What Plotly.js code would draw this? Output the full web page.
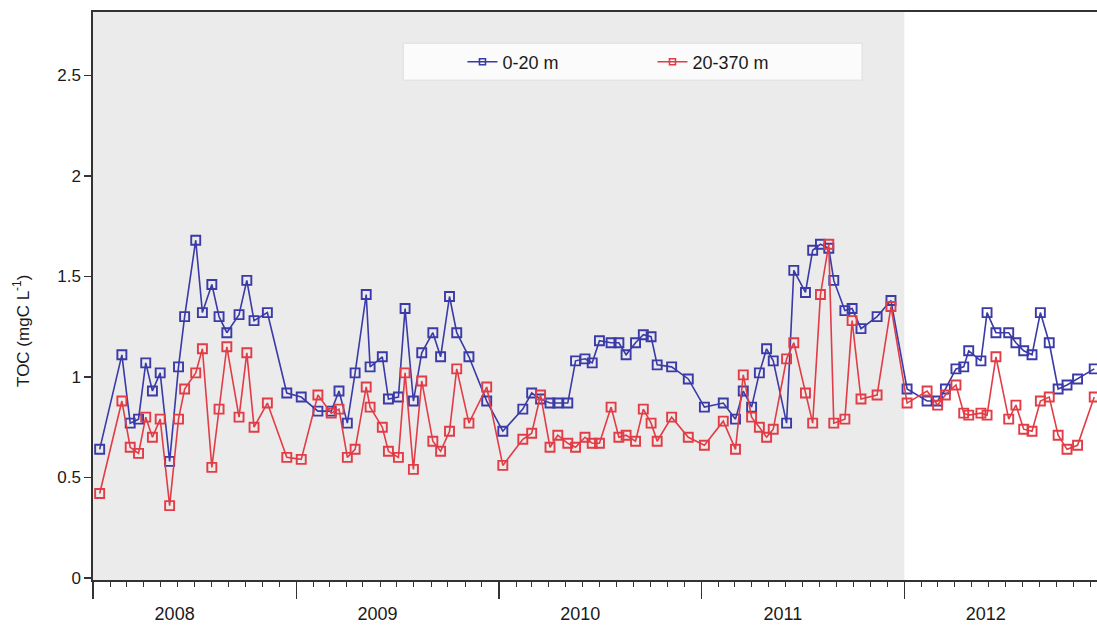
<!DOCTYPE html>
<html>
<head>
<meta charset="utf-8">
<script src="https://cdn.plot.ly/plotly-3.0.1.min.js"></script>
<style>
  html, body { margin: 0; padding: 0; background: #ffffff; }
  #chart { width: 1097px; height: 626px; }
</style>
</head>
<body>
<div id="chart"></div>
<script>
// Sampling dates (shared by both depth layers)
const sampleDates = [
  '2008-01-13','2008-02-22','2008-03-08','2008-03-23','2008-04-05','2008-04-17','2008-05-01','2008-05-18',
  '2008-06-03','2008-06-14','2008-07-04','2008-07-16','2008-08-02','2008-08-15','2008-08-29','2008-09-20',
  '2008-10-04','2008-10-17','2008-11-10','2008-12-15',
  '2009-01-10','2009-02-09','2009-03-05','2009-03-19','2009-04-03','2009-04-17','2009-05-07','2009-05-14',
  '2009-06-05','2009-06-16','2009-07-04','2009-07-16','2009-07-31','2009-08-15','2009-09-04','2009-09-18',
  '2009-10-04','2009-10-17','2009-11-08','2009-12-10',
  '2010-01-08','2010-02-13','2010-03-01','2010-03-17','2010-04-03','2010-04-17','2010-05-05','2010-05-19',
  '2010-06-05','2010-06-18','2010-07-01','2010-07-22','2010-08-05','2010-08-18','2010-09-04','2010-09-18',
  '2010-10-02','2010-10-13','2010-11-08','2010-12-08',
  '2011-01-06','2011-02-09','2011-03-03','2011-03-17','2011-04-01','2011-04-15','2011-04-28','2011-05-10',
  '2011-06-03','2011-06-16','2011-07-07','2011-07-20','2011-08-03','2011-08-18','2011-08-27','2011-09-16',
  '2011-09-29','2011-10-15','2011-11-13','2011-12-08',
  '2012-01-06','2012-02-11','2012-03-01','2012-03-15','2012-04-03','2012-04-17','2012-04-26','2012-05-18',
  '2012-05-29','2012-06-14','2012-07-07','2012-07-20','2012-08-03','2012-08-18','2012-09-02','2012-09-18',
  '2012-10-04','2012-10-20','2012-11-08','2012-12-08'
];

// TOC, surface layer 0-20 m (mgC/L)
const tocSurface = [
  0.64, 1.11, 0.77, 0.79, 1.07, 0.93, 1.02, 0.58,
  1.05, 1.30, 1.68, 1.32, 1.46, 1.30, 1.22, 1.31,
  1.48, 1.28, 1.32, 0.92,
  0.90, 0.83, 0.83, 0.93, 0.77, 1.02, 1.41, 1.05,
  1.10, 0.89, 0.90, 1.34, 0.88, 1.12, 1.22, 1.10,
  1.40, 1.22, 1.10, 0.88,
  0.73, 0.84, 0.92, 0.89, 0.87, 0.87, 0.87, 1.08,
  1.09, 1.07, 1.18, 1.17, 1.17, 1.11, 1.17, 1.21,
  1.20, 1.06, 1.05, 0.99,
  0.85, 0.87, 0.79, 0.93, 0.85, 1.02, 1.14, 1.08,
  0.77, 1.53, 1.42, 1.63, 1.66, 1.64, 1.48, 1.33,
  1.34, 1.24, 1.30, 1.38,
  0.94, 0.88, 0.88, 0.94, 1.04, 1.05, 1.13, 1.08,
  1.32, 1.22, 1.22, 1.17, 1.13, 1.11, 1.32, 1.17,
  0.94, 0.96, 0.99, 1.04
];

// TOC, deep layer 20-370 m (mgC/L)
const tocDeep = [
  0.42, 0.88, 0.65, 0.62, 0.80, 0.70, 0.79, 0.36,
  0.79, 0.94, 1.02, 1.14, 0.55, 0.84, 1.15, 0.80,
  1.12, 0.75, 0.87, 0.60,
  0.59, 0.91, 0.82, 0.84, 0.60, 0.64, 0.95, 0.85,
  0.75, 0.63, 0.60, 1.02, 0.54, 0.98, 0.68, 0.63,
  0.73, 1.04, 0.77, 0.95,
  0.56, 0.69, 0.72, 0.91, 0.65, 0.71, 0.67, 0.65,
  0.70, 0.67, 0.67, 0.85, 0.70, 0.71, 0.68, 0.84,
  0.77, 0.68, 0.80, 0.70,
  0.66, 0.78, 0.64, 1.01, 0.80, 0.75, 0.70, 0.74,
  1.09, 1.17, 0.92, 0.77, 1.41, 1.66, 0.77, 0.79,
  1.28, 0.89, 0.91, 1.35,
  0.87, 0.93, 0.86, 0.91, 0.96, 0.82, 0.81, 0.82,
  0.81, 1.10, 0.79, 0.86, 0.74, 0.73, 0.88, 0.90,
  0.71, 0.64, 0.66, 0.90
];

const seriesNames = ['0-20 m', '20-370 m'];
const yTickVals = [0, 0.5, 1, 1.5, 2, 2.5];
const yTickText = ['0', '0.5', '1', '1.5', '2', '2.5'];

const FONT = 'Arial, "Liberation Sans", sans-serif';
const TXT = '#1a1a1a';
const BLUE = '#3a3aa8';
const RED = '#e23c46';
const X_RANGE = ['2008-01-01', '2012-12-13'];

function seriesTrace(y, name, color) {
  return {
    x: sampleDates, y: y, name: name, showlegend: false,
    type: 'scatter', mode: 'lines+markers',
    line: { color: color, width: 1.6 },
    marker: { symbol: 'square-open', size: 9, color: color, line: { width: 1.9, color: color } }
  };
}

// legend keys: short line with a small square
function legendKey(name, color) {
  return {
    x: [null], y: [null], name: name, showlegend: true,
    type: 'scatter', mode: 'lines+markers',
    line: { color: color, width: 1.6 },
    marker: { symbol: 'square-open', size: 6, color: color, line: { width: 1.6, color: color } }
  };
}

const traces = [
  seriesTrace(tocSurface, seriesNames[0], BLUE),
  seriesTrace(tocDeep, seriesNames[1], RED),
  legendKey(seriesNames[0], BLUE),
  legendKey(seriesNames[1], RED)
];

const layout = {
  width: 1097, height: 626,
  margin: { l: 93, r: 0, t: 12, b: 46 },
  paper_bgcolor: '#ffffff',
  plot_bgcolor: '#ffffff',
  font: { family: FONT, size: 17, color: TXT },
  showlegend: true,
  legend: {
    orientation: 'h', x: 0.368, y: 0.912, xanchor: 'left', yanchor: 'middle',
    bgcolor: 'rgba(0,0,0,0)', borderwidth: 0,
    font: { family: FONT, size: 18, color: TXT },
    entrywidth: 145, itemwidth: 30
  },
  xaxis: {
    type: 'date',
    range: X_RANGE,
    tick0: '2008-01-01', dtick: 'M12',
    tickformat: '%Y', ticklabelmode: 'period', ticklabelshift: -20,
    ticks: 'outside', ticklen: 17, tickwidth: 1.4, tickcolor: '#333',
    minor: { dtick: 'M1', ticks: 'outside', ticklen: 5, tickwidth: 1, tickcolor: '#333', showgrid: false },
    showline: true, linecolor: '#333', linewidth: 1.6, mirror: true,
    showgrid: false, zeroline: false,
    tickfont: { family: FONT, size: 18, color: TXT }
  },
  // year ticks reaching up across the axis line
  xaxis2: {
    type: 'date', overlaying: 'x', anchor: 'y', side: 'bottom',
    range: X_RANGE, tick0: '2008-01-01', dtick: 'M12',
    ticks: 'inside', ticklen: 6, tickwidth: 1.4, tickcolor: '#333',
    showticklabels: false, showline: false, showgrid: false, zeroline: false
  },
  yaxis: {
    range: [-0.01, 2.815],
    tickvals: yTickVals, ticktext: yTickText,
    ticks: 'outside', ticklen: 7, tickwidth: 1.3, tickcolor: '#333',
    showline: true, linecolor: '#333', linewidth: 1.6, mirror: false,
    showgrid: false, zeroline: false,
    tickfont: { family: FONT, size: 17, color: TXT }
  },
  shapes: [
    // shaded period 2008-2011
    { type: 'rect', xref: 'x', yref: 'paper', x0: '2008-01-01', x1: '2012-01-01', y0: 0, y1: 1,
      fillcolor: '#ebebeb', line: { width: 0 }, layer: 'below' },
    // legend frame
    { type: 'rect', xref: 'paper', yref: 'paper', x0: 0.309, x1: 0.766, y0: 0.880, y1: 0.945,
      fillcolor: '#fbfbfb', line: { width: 1, color: '#dedede' }, layer: 'below' }
  ],
  annotations: [
    { text: 'TOC (mgC L<sup>-1</sup>)', xref: 'paper', yref: 'paper', x: -0.071, y: 0.438,
      xanchor: 'center', yanchor: 'middle', textangle: -90, showarrow: false,
      font: { family: FONT, size: 17, color: TXT } }
  ]
};

Plotly.newPlot('chart', traces, layout, { displayModeBar: false, staticPlot: true });
</script>
</body>
</html>
